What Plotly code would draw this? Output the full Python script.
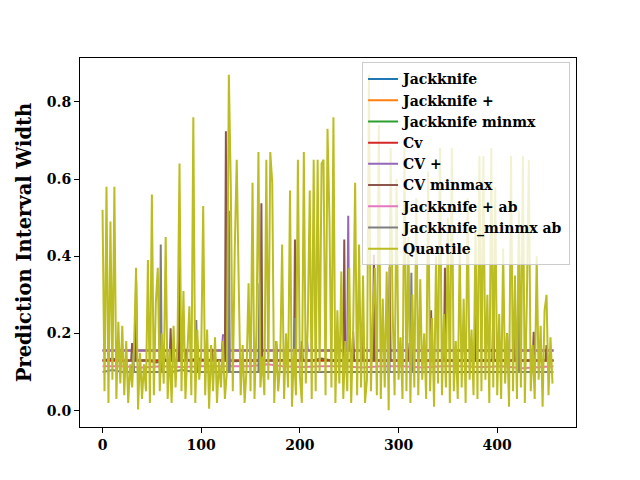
import plotly.graph_objects as go

# ---------------- data ----------------
series_names = ["Jackknife", "Jackknife +", "Jackknife minmx", "Cv", "CV +",
                "CV minmax", "Jackknife + ab", "Jackknife_minmx ab", "Quantile"]
colors = ["#1f77b4", "#ff7f0e", "#2ca02c", "#d62728", "#9467bd",
          "#8c564b", "#e377c2", "#7f7f7f", "#bcbd22"]

jk_x = [0, 60, 120, 180, 240, 300, 360, 420, 457]
jk_y = [0.156, 0.156, 0.156, 0.156, 0.156, 0.156, 0.156, 0.156, 0.156]

jkp_x = [0, 60, 120, 180, 240, 300, 360, 420, 457]
jkp_y = [0.156, 0.156, 0.156, 0.156, 0.156, 0.156, 0.156, 0.156, 0.156]

jkmm_x = [0, 50, 100, 108, 111, 114, 150, 200, 250, 300, 350, 400, 457]
jkmm_y = [0.13, 0.13, 0.13, 0.13, 0.135, 0.13, 0.13, 0.13, 0.13, 0.13, 0.13, 0.13, 0.13]

cv_x = [0, 60, 120, 180, 240, 300, 360, 420, 457]
cv_y = [0.13, 0.13, 0.13, 0.13, 0.13, 0.13, 0.13, 0.13, 0.13]

cvp_x = [0, 20, 40, 60, 80, 100, 121, 122, 126, 127, 150, 180, 206, 207, 208,
         230, 248, 249, 250, 270, 300, 330, 360, 390, 420, 457]
cvp_y = [0.156, 0.156, 0.156, 0.156, 0.156, 0.156, 0.156, 0.195, 0.195, 0.156, 0.156, 0.156, 0.156, 0.19, 0.156,
         0.156, 0.156, 0.505, 0.156, 0.156, 0.156, 0.156, 0.156, 0.156, 0.156, 0.156]

cvmm_x = [0, 10, 20, 29, 30, 31, 33, 34, 35, 45, 55, 61, 62, 63, 68, 69, 70, 77, 78, 79,
          84, 85, 86, 97, 105, 110, 111, 112, 124, 125, 126, 135, 145, 160, 161, 162,
          175, 176, 177, 185, 194, 195, 196, 201, 202, 203, 212, 222, 232, 244, 245, 246,
          253, 254, 255, 262, 263, 264, 274, 275, 276, 283, 290, 291, 292, 300, 308, 309, 310,
          320, 332, 333, 334, 346, 347, 348, 360, 370, 377, 378, 379, 388, 395, 396, 397,
          409, 410, 411, 416, 417, 418, 426, 436, 437, 438, 445, 449, 450, 451, 457]
cvmm_y = [0.13, 0.135, 0.128, 0.13, 0.175, 0.13, 0.13, 0.336, 0.13, 0.13, 0.125, 0.13, 0.17, 0.13, 0.13, 0.213, 0.13, 0.13, 0.404, 0.13,
          0.13, 0.16, 0.13, 0.135, 0.13, 0.13, 0.16, 0.13, 0.13, 0.724, 0.13, 0.128, 0.13, 0.13, 0.537, 0.13,
          0.13, 0.18, 0.13, 0.132, 0.13, 0.443, 0.13, 0.13, 0.18, 0.13, 0.13, 0.135, 0.13, 0.13, 0.443, 0.13,
          0.13, 0.204, 0.13, 0.13, 0.21, 0.13, 0.13, 0.404, 0.13, 0.13, 0.13, 0.372, 0.13, 0.13, 0.13, 0.175, 0.13,
          0.13, 0.13, 0.26, 0.13, 0.13, 0.37, 0.13, 0.13, 0.13, 0.13, 0.256, 0.13, 0.13, 0.13, 0.25, 0.13,
          0.13, 0.2, 0.13, 0.13, 0.19, 0.13, 0.13, 0.13, 0.204, 0.13, 0.13, 0.13, 0.17, 0.13, 0.13]

jkpab_x = [0, 20, 40, 60, 80, 100, 120, 127, 128, 129, 150, 167, 182, 202, 222, 243,
           263, 283, 304, 324, 344, 364, 385, 405, 425, 445, 457]
jkpab_y = [0.115, 0.115, 0.112, 0.115, 0.113, 0.115, 0.115, 0.115, 0.235, 0.115, 0.115, 0.12, 0.115, 0.113, 0.115, 0.115,
           0.112, 0.115, 0.115, 0.112, 0.115, 0.115, 0.113, 0.115, 0.11, 0.112, 0.115]

jkmmab_x = [0, 10, 20, 30, 31, 32, 45, 58, 59, 60, 70, 80, 94, 95, 96, 110, 127, 128, 129,
            140, 158, 159, 160, 170, 180, 194, 195, 196, 210, 225, 240, 255, 270, 289, 290, 291,
            300, 312, 313, 314, 325, 340, 355, 370, 385, 400, 421, 422, 423, 435, 445, 457]
jkmmab_y = [0.10, 0.105, 0.10, 0.10, 0.15, 0.10, 0.10, 0.10, 0.43, 0.10, 0.10, 0.105, 0.10, 0.235, 0.10, 0.10, 0.10, 0.518, 0.10,
            0.10, 0.10, 0.33, 0.10, 0.10, 0.10, 0.10, 0.24, 0.10, 0.10, 0.10, 0.10, 0.10, 0.10, 0.10, 0.287, 0.10,
            0.10, 0.10, 0.357, 0.10, 0.10, 0.10, 0.10, 0.10, 0.10, 0.10, 0.10, 0.43, 0.10, 0.10, 0.10, 0.10]

quant_step = 2
quant_y = [
    0.52, 0.05, 0.58, 0.02, 0.49, 0.08, 0.58, 0.03, 0.23, 0.07,
    0.22, 0.04, 0.18, 0.02, 0.12, 0.06, 0.17, 0.37, 0.003, 0.15,
    0.03, 0.12, 0.05, 0.39, 0.02, 0.56, 0.04, 0.28, 0.37, 0.05,
    0.20, 0.07, 0.45, 0.03, 0.16, 0.02, 0.22, 0.06, 0.18, 0.64,
    0.05, 0.31, 0.03, 0.14, 0.27, 0.04, 0.76, 0.02, 0.21, 0.08,
    0.15, 0.53, 0.04, 0.21, 0.005, 0.17, 0.05, 0.19, 0.02, 0.13,
    0.06, 0.18, 0.03, 0.10, 0.87, 0.58, 0.05, 0.42, 0.65, 0.33,
    0.04, 0.17, 0.02, 0.11, 0.33, 0.05, 0.59, 0.03, 0.21, 0.67,
    0.06, 0.14, 0.04, 0.65, 0.08, 0.67, 0.59, 0.02, 0.18, 0.05,
    0.12, 0.43, 0.03, 0.20, 0.06, 0.57, 0.01, 0.16, 0.04, 0.65,
    0.09, 0.02, 0.67, 0.07, 0.22, 0.57, 0.03, 0.65, 0.05, 0.65,
    0.10, 0.64, 0.65, 0.04, 0.73, 0.49, 0.06, 0.76, 0.02, 0.26,
    0.07, 0.36, 0.03, 0.18, 0.05, 0.37, 0.02, 0.21, 0.59, 0.04,
    0.43, 0.06, 0.35, 0.02, 0.08, 0.87, 0.05, 0.25, 0.37, 0.04,
    0.74, 0.03, 0.29, 0.06, 0.36, 0.001, 0.68, 0.26, 0.04, 0.60,
    0.08, 0.19, 0.03, 0.68, 0.05, 0.45, 0.02, 0.30, 0.06, 0.55,
    0.04, 0.34, 0.08, 0.20, 0.03, 0.62, 0.05, 0.24, 0.01, 0.40,
    0.07, 0.68, 0.04, 0.25, 0.06, 0.50, 0.02, 0.68, 0.05, 0.18,
    0.03, 0.42, 0.06, 0.29, 0.02, 0.55, 0.08, 0.21, 0.04, 0.47, 0.03,
    0.66, 0.05, 0.66, 0.08, 0.30, 0.02, 0.68, 0.06, 0.58, 0.04,
    0.25, 0.03, 0.42, 0.07, 0.20, 0.01, 0.66, 0.05, 0.35, 0.03,
    0.52, 0.06, 0.66, 0.02, 0.28, 0.65, 0.05, 0.17, 0.03, 0.40,
    0.08, 0.22, 0.01, 0.26, 0.30, 0.04, 0.19, 0.07,
]
quant_x = [i * quant_step for i in range(len(quant_y))]

y_ticks = [0.0, 0.2, 0.4, 0.6, 0.8]
x_ticks = [0, 100, 200, 300, 400]

all_x = [jk_x, jkp_x, jkmm_x, cv_x, cvp_x, cvmm_x, jkpab_x, jkmmab_x, quant_x]
all_y = [jk_y, jkp_y, jkmm_y, cv_y, cvp_y, cvmm_y, jkpab_y, jkmmab_y, quant_y]

# ---------------- figure ----------------
FONT = "DejaVu Serif"
fig = go.Figure()
for name, c, xs, ys in zip(series_names, colors, all_x, all_y):
    fig.add_trace(go.Scatter(x=xs, y=ys, mode="lines", name=name,
                             line=dict(color=c, width=2)))

xmax = max(max(v) for v in all_x)
xspan = xmax - 0
ymin = min(min(v) for v in all_y)
ymax = max(max(v) for v in all_y)
yspan = ymax - ymin

fig.update_layout(
    width=640, height=480,
    margin=dict(l=80, r=64, t=58, b=53),
    paper_bgcolor="white", plot_bgcolor="white",
    font=dict(family=FONT, color="black", size=14),
    legend=dict(
        x=0.988, y=0.988, xanchor="right", yanchor="top",
        bgcolor="rgba(255,255,255,0.8)", bordercolor="#cccccc", borderwidth=1,
        font=dict(family=FONT, size=14, color="black", weight="bold"),
        itemwidth=30, tracegroupgap=0,
    ),
    showlegend=True,
)
fig.update_xaxes(
    range=[-0.05 * xspan, xmax + 0.05 * xspan],
    tickvals=x_ticks, ticktext=[str(v) for v in x_ticks],
    showgrid=False, zeroline=False,
    showline=True, linecolor="black", linewidth=1, mirror=True,
    ticks="outside", ticklen=5, tickwidth=1, tickcolor="black",
    tickfont=dict(family=FONT, size=14, color="black", weight="bold"),
)
fig.update_yaxes(
    range=[ymin - 0.05 * yspan, ymax + 0.05 * yspan],
    tickvals=y_ticks, ticktext=["%.1f" % v for v in y_ticks],
    showgrid=False, zeroline=False,
    showline=True, linecolor="black", linewidth=1, mirror=True,
    ticks="outside", ticklen=5, tickwidth=1, tickcolor="black",
    tickfont=dict(family=FONT, size=14, color="black", weight="bold"),
    title=dict(text="Prediction Interval Width", standoff=10,
               font=dict(family=FONT, size=19.5, color="black", weight="bold")),
)

fig.write_html("out.html")
